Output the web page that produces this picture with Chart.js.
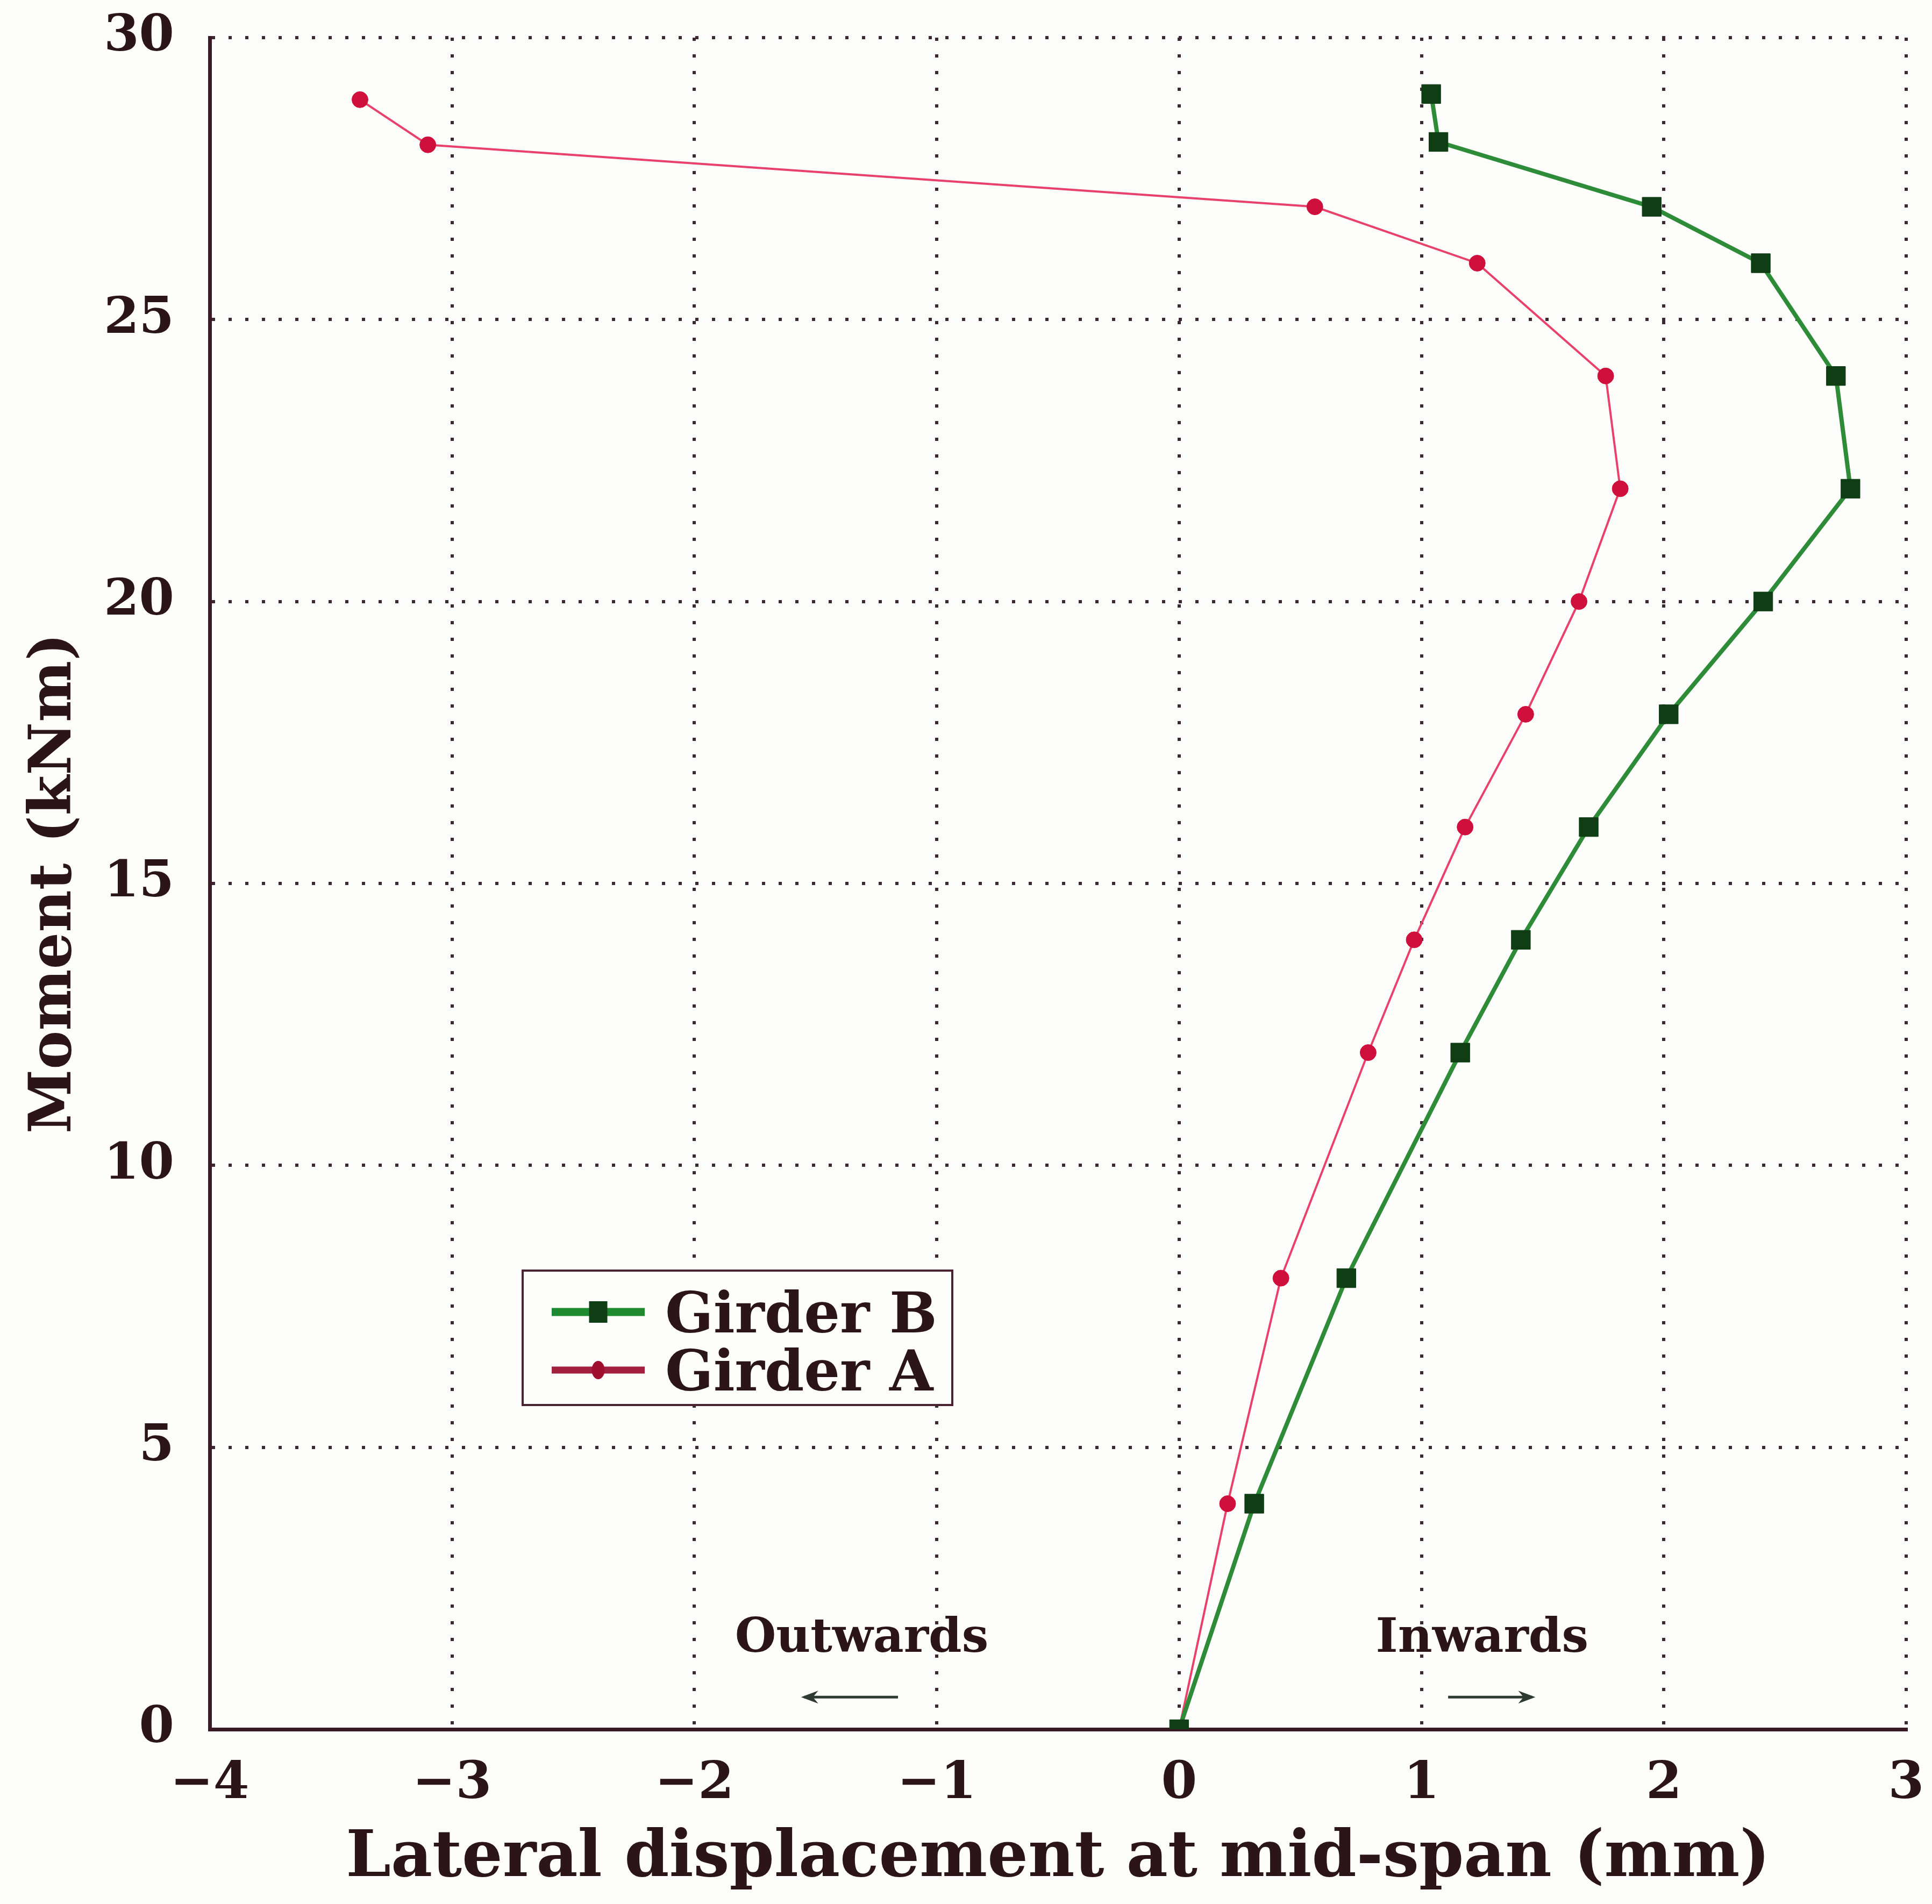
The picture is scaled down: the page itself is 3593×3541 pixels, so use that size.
<!DOCTYPE html>
<html><head><meta charset="utf-8">
<script src="https://cdn.jsdelivr.net/npm/chart.js@4.4.1/dist/chart.umd.min.js"></script>
<style>html,body{margin:0;padding:0;background:#fdfdfb;} #wrap{width:3593px;height:3541px;position:relative;}</style>
</head><body><div id="wrap"><canvas id="c"></canvas></div>
<script>
// ---- data ----
const girderBDisp   = [0, 0.31, 0.69, 1.16, 1.41, 1.69, 2.02, 2.41, 2.77, 2.71, 2.40, 1.95, 1.07, 1.04];
const girderBMoment = [0, 4, 8, 12, 14, 16, 18, 20, 22, 24, 26, 27, 28.15, 29];
const girderADisp   = [0, 0.20, 0.42, 0.78, 0.97, 1.18, 1.43, 1.65, 1.82, 1.76, 1.23, 0.56, -3.10, -3.38];
const girderAMoment = [0, 4, 8, 12, 14, 16, 18, 20, 22, 24, 26, 27, 28.1, 28.9];
const seriesLabels  = ['Girder B', 'Girder A'];
const xTickValues   = [-4, -3, -2, -1, 0, 1, 2, 3];
const yTickValues   = [0, 5, 10, 15, 20, 25, 30];
const xAxisTitle    = 'Lateral displacement at mid-span (mm)';
const yAxisTitle    = 'Moment (kNm)';
const directionLabels = ['Outwards', 'Inwards'];
const directionLabelX = [-1.31, 1.25];
const directionLabelY = [1.37, 1.37];
const arrowFromX = [-1.16, 1.11];
const arrowToX   = [-1.56, 1.47];
const arrowY     = [0.57, 0.57];

// ---- styles ----
const FONT = "'DejaVu Serif'";
const TEXT = '#2b1519';
const GRID = '#3b2a33';
const AXIS = '#3a1a24';
const GREEN_LINE = '#2e8b37', GREEN_PT = '#0f3d14';
const RED_LINE = '#e8426c', RED_PT = '#d0103c';

const fmt = v => (v < 0 ? '\u2212' + Math.abs(v) : String(v));

const bgPlugin = {
  id: 'bg',
  beforeDraw(chart) {
    const ctx = chart.ctx; ctx.save();
    ctx.fillStyle = '#fdfdfb'; ctx.fillRect(0, 0, chart.width, chart.height); ctx.restore();
  }
};

const annotPlugin = {
  id: 'annot',
  afterDatasetsDraw(chart) {
    const ctx = chart.ctx, xs = chart.scales.x, ys = chart.scales.y;
    ctx.save();
    ctx.fillStyle = TEXT;
    ctx.font = "bold 88px " + FONT;
    ctx.textAlign = 'center'; ctx.textBaseline = 'alphabetic';
    directionLabels.forEach((t, i) => {
      ctx.fillText(t, xs.getPixelForValue(directionLabelX[i]), ys.getPixelForValue(directionLabelY[i]));
    });
    ctx.strokeStyle = '#2f3a35'; ctx.fillStyle = '#2f3a35'; ctx.lineWidth = 5;
    arrowFromX.forEach((fx, i) => {
      const x1 = xs.getPixelForValue(fx), x2 = xs.getPixelForValue(arrowToX[i]);
      const y = ys.getPixelForValue(arrowY[i]);
      const dir = Math.sign(x2 - x1);
      ctx.beginPath(); ctx.moveTo(x1, y); ctx.lineTo(x2 - dir * 6, y); ctx.stroke();
      ctx.beginPath();
      ctx.moveTo(x2, y); ctx.lineTo(x2 - dir * 32, y - 12); ctx.lineTo(x2 - dir * 22, y); ctx.lineTo(x2 - dir * 32, y + 12);
      ctx.closePath(); ctx.fill();
    });
    ctx.restore();
  }
};

const legendPlugin = {
  id: 'customLegend',
  afterDraw(chart) {
    const ctx = chart.ctx;
    const box = {left: 972, top: 2363, right: 1771, bottom: 2613};
    const rows = [2440, 2548];
    const lineX = [1026, 1199];
    const legendLine = [{c: '#1f8a2f', w: 15, pc: GREEN_PT}, {c: '#a3213f', w: 13, pc: '#a0102e'}];
    ctx.save();
    ctx.fillStyle = '#fdfdfb';
    ctx.fillRect(box.left, box.top, box.right - box.left, box.bottom - box.top);
    ctx.strokeStyle = '#4a2232'; ctx.lineWidth = 4;
    ctx.strokeRect(box.left, box.top, box.right - box.left, box.bottom - box.top);
    chart.data.datasets.forEach((ds, i) => {
      const y = rows[i], st = legendLine[i];
      ctx.strokeStyle = st.c; ctx.lineWidth = st.w; ctx.lineCap = 'butt';
      ctx.beginPath(); ctx.moveTo(lineX[0], y); ctx.lineTo(lineX[1], y); ctx.stroke();
      const mx = (lineX[0] + lineX[1]) / 2;
      ctx.fillStyle = st.pc;
      if (ds.pointStyle === 'rect') { ctx.fillRect(mx - 17, y - 20, 34, 40); }
      else { ctx.beginPath(); ctx.ellipse(mx, y, 12, 17, 0, 0, Math.PI * 2); ctx.fill(); }
      ctx.fillStyle = TEXT; ctx.font = "bold 105px " + FONT;
      ctx.textAlign = 'left'; ctx.textBaseline = 'alphabetic';
      ctx.fillText(ds.label, 1237, y + 38);
    });
    ctx.restore();
  }
};

const cfg = {
  type: 'scatter',
  data: {
    datasets: [
      {
        label: seriesLabels[0],
        data: girderBDisp.map((x, i) => ({x, y: girderBMoment[i]})),
        showLine: true, borderColor: GREEN_LINE, borderWidth: 8,
        pointStyle: 'rect', pointRadius: 25, pointBackgroundColor: GREEN_PT, pointBorderColor: GREEN_PT, pointBorderWidth: 1,
        tension: 0
      },
      {
        label: seriesLabels[1],
        data: girderADisp.map((x, i) => ({x, y: girderAMoment[i]})),
        showLine: true, borderColor: RED_LINE, borderWidth: 4,
        pointStyle: 'circle', pointRadius: 15, pointBackgroundColor: RED_PT, pointBorderColor: RED_PT, pointBorderWidth: 1,
        tension: 0
      }
    ]
  },
  options: {
    responsive: true, maintainAspectRatio: false, devicePixelRatio: 1, animation: false,
    layout: {padding: {top: 70, right: 48, left: 0, bottom: 0}},
    plugins: {legend: {display: false}, tooltip: {enabled: false}},
    scales: {
      x: {
        type: 'linear', min: -4, max: 3,
        afterBuildTicks: s => { s.ticks = xTickValues.map(v => ({value: v})); },
        afterFit: s => { s.height = 325; s.paddingLeft = 0; s.paddingRight = 0; },
        ticks: {callback: v => fmt(v), color: TEXT, font: {family: FONT, size: 96, weight: 'bold'}, padding: 45, maxRotation: 0, autoSkip: false},
        grid: {color: GRID, lineWidth: 6, drawTicks: false},
        border: {display: true, color: AXIS, width: 7, dash: [6, 25]},
        title: {display: true, text: xAxisTitle, color: TEXT, font: {family: FONT, size: 119, weight: 'bold'}, padding: {top: 0, bottom: 12}}
      },
      y: {
        type: 'linear', min: 0, max: 30,
        afterBuildTicks: s => { s.ticks = yTickValues.map(v => ({value: v})); },
        afterFit: s => { s.width = 390; s.paddingTop = 0; s.paddingBottom = 0; },
        ticks: {callback: v => fmt(v), color: TEXT, font: {family: FONT, size: 94, weight: 'bold'}, padding: 66, autoSkip: false},
        grid: {color: GRID, lineWidth: 6, drawTicks: false},
        border: {display: true, color: AXIS, width: 7, dash: [6, 25]},
        title: {display: true, text: yAxisTitle, color: TEXT, font: {family: FONT, size: 108, weight: 'bold'}, padding: {top: 38, bottom: 0}}
      }
    }
  },
  plugins: [bgPlugin, annotPlugin, legendPlugin]
};
new Chart(document.getElementById('c'), cfg);
</script></body></html>
